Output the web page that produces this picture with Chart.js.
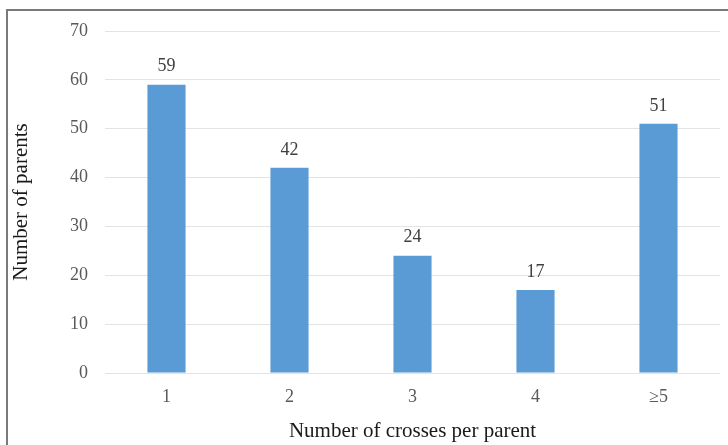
<!DOCTYPE html>
<html>
<head>
<meta charset="utf-8">
<script src="https://cdn.jsdelivr.net/npm/chart.js@4/dist/chart.umd.min.js"></script>
<style>
  html, body { margin: 0; padding: 0; background: #fff; }
  #wrap { position: relative; width: 728px; height: 445px; overflow: hidden; }
  #frame {
    position: absolute; left: 6px; top: 9px; width: 760px; height: 480px;
    border-left: 2px solid #7a7a7a; border-top: 2px solid #7a7a7a;
    box-sizing: border-box;
  }
  canvas { position: absolute; left: 0; top: 0; }
</style>
</head>
<body>
<div id="wrap">
  <div id="frame"></div>
  <canvas id="chart" width="728" height="445"></canvas>
</div>
<script>
// Parents grouped by how many crosses each one took part in
const categories = ['1', '2', '3', '4', '\u22655'];
const parentCounts = [59, 42, 24, 17, 51];
const yTicks = [0, 10, 20, 30, 40, 50, 60, 70];

const serif = '"Liberation Serif", "Times New Roman", serif';

// Writes each bar's value just above it
const valueLabels = {
  id: 'valueLabels',
  afterDatasetsDraw(chart) {
    const ctx = chart.ctx;
    const meta = chart.getDatasetMeta(0);
    ctx.save();
    ctx.font = '18px ' + serif;
    ctx.fillStyle = '#404040';
    ctx.textAlign = 'center';
    ctx.textBaseline = 'middle';
    meta.data.forEach((bar, i) => {
      ctx.fillText(String(chart.data.datasets[0].data[i]), bar.x, bar.y - 18);
    });
    ctx.restore();
  }
};

new Chart(document.getElementById('chart'), {
  type: 'bar',
  data: {
    labels: categories,
    datasets: [{
      data: parentCounts,
      backgroundColor: '#5b9bd5',
      borderWidth: 0,
      barPercentage: 0.62,
      categoryPercentage: 0.5
    }]
  },
  options: {
    responsive: false,
    animation: false,
    events: [],
    layout: { padding: { left: 8, right: 8, top: 31, bottom: 0 } },
    plugins: { legend: { display: false }, tooltip: { enabled: false } },
    scales: {
      x: {
        border: { display: false },
        grid: { display: false, drawTicks: false },
        ticks: { color: '#595959', font: { family: serif, size: 18 }, padding: 13 },
        title: {
          display: true, text: 'Number of crosses per parent',
          color: '#1a1a1a', font: { family: serif, size: 21 },
          padding: { top: 2, bottom: 1 }
        },
        afterFit(scale) { scale.height = 72; }
      },
      y: {
        min: 0, max: 70,
        border: { display: false },
        grid: { color: '#e3e3e3', lineWidth: 1, drawTicks: false },
        afterBuildTicks(scale) { scale.ticks = yTicks.map(v => ({ value: v })); },
        ticks: { color: '#595959', font: { family: serif, size: 18 }, padding: 17 },
        title: {
          display: true, text: 'Number of parents',
          color: '#1a1a1a', font: { family: serif, size: 21 },
          padding: { top: 1, bottom: 1 }
        },
        afterFit(scale) { scale.width = 97; }
      }
    }
  },
  plugins: [valueLabels]
});
</script>
</body>
</html>
